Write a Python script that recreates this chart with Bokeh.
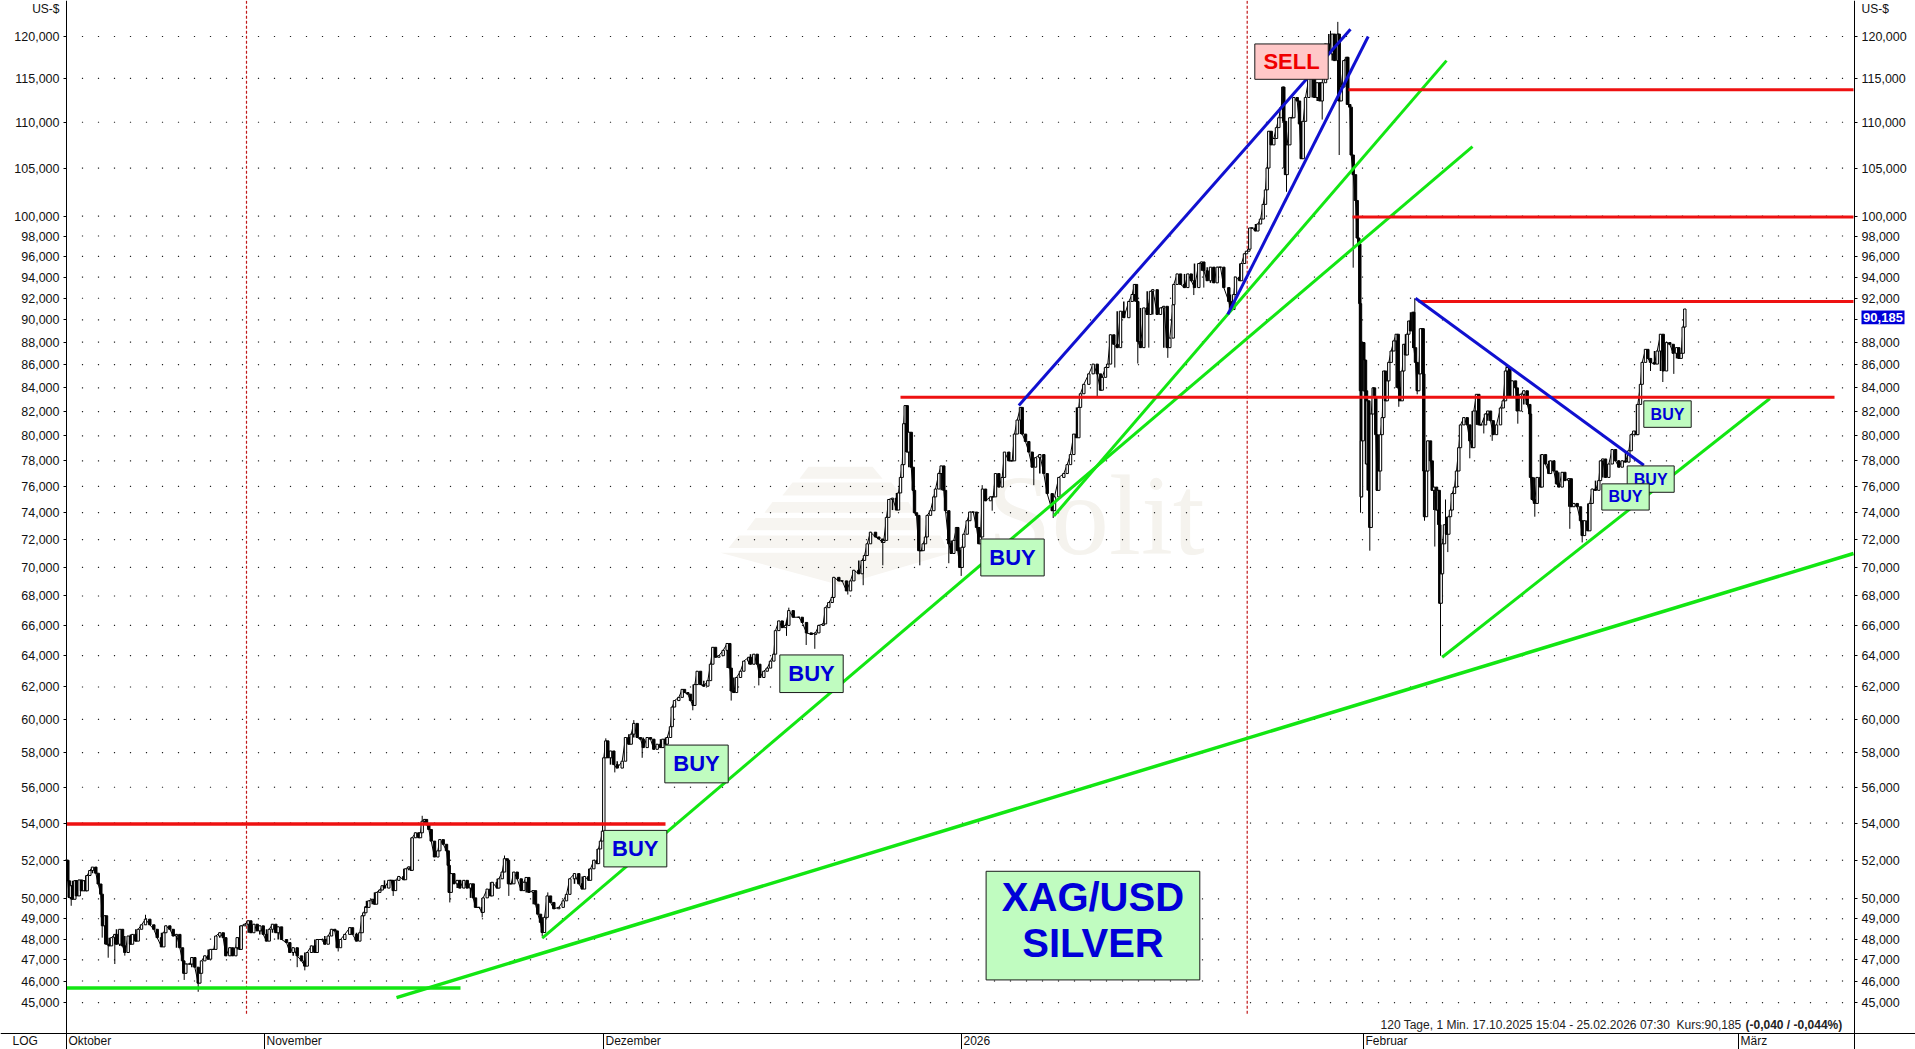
from bokeh.core.properties import value
from bokeh.embed import file_html
from bokeh.models import BasicTickFormatter, FixedTicker, LinearAxis, LogAxis, Range1d
from bokeh.plotting import figure
from bokeh.resources import INLINE
import numpy as np

# x = bar number on the chart (one bar per screen column), y = price in US-$
oct_nov = [(0,52.0),(1.3,50.93),(2.7,50.07),(4,50.67),(6,49.98),(8.3,50.93),(10,50.15),(12.7,50.97),(15,50.41),(17.3,50.93),
    (19.3,50.41),(20.7,51.2),(23.3,51.46),(26,51.64),(29.3,51.32),(31.7,50.76),(34.3,50.24),(35.7,49.07),(36,48.65),(38.3,49.15),
    (40,47.75),(42.7,47.67),(45,48.07),(48.3,48.23),(50,47.75),(53.3,48.48),(56,47.67),(58.3,47.35),(61.7,48.15),(64,47.75),
    (66,48.23),(69.3,47.9),(71.7,48.48),(75,48.7),(79,48.98),(83.3,48.7),(87.3,48.48),(90.7,48.07),(95,47.62),(97.3,48.31),
    (99.3,48.65),(103.3,48.48),(106.7,48.15),(110,48.23),(113.3,47.58),(116,46.95),(117.3,46.36),(119.3,46.8),(123.3,46.8),(125.3,47.11),
    (128.3,46.65),(131.7,45.9),(133.3,46.36),(135,46.95),(138.3,47.19),(141.7,47.03),(144,47.5),(147.3,47.5),(149.3,48.15),(153.3,48.31),
    (156.7,48.07),(159.3,47.19),(163.3,47.58),(166,47.19),(169.3,47.58),(170.7,48.07),(173.3,47.5),(174.7,48.65),(178.3,48.73),(181.7,48.9),
    (184.3,48.31),(187.3,48.73),(190.7,48.4),(193.3,48.65),(196.7,48.23),(200,47.9),(202.7,48.48),(206,48.73),(209.3,48.31),(211.7,48.6),
    (215,47.98),(220,47.83),(223.3,47.35),(226.7,47.58),(230.7,47.19),(235,46.95),(238.3,46.7),(240.7,47.35),(245,47.67),(248.3,47.35),
    (250.7,47.98),(255,47.98),(258.3,47.75),(261.7,48.15),(265,48.48),(268.3,48.4),(270.7,47.58),(274,47.98),(278.3,48.23),(283.3,48.56),
    (286,48.23),(290,47.9),(293.3,48.31),(295.7,49.15),(297.3,49.3),(299.3,49.6)]

nov_dez = [(300,49.57),(302.3,49.9),(305.7,49.98),(308,49.73),(310,50.33),(313.3,50.45),(315.7,50.67),(318,50.55),(322.3,50.95),(324.7,50.95),
    (326.7,50.42),(329,50.95),(332.3,51.15),(337.3,50.98),(339,51.55),(342.3,51.65),(344.7,51.47),(345.7,53.2),(349,53.47),(352.3,53.2),
    (354,53.47),(355.7,54.1),(358,54.2),(360,53.93),(362.3,53.65),(364.7,53.02),(368,52.17),(371.3,52.5),(373.3,53.1),(376.7,52.85),
    (380,52.5),(381.7,51.73),(382.7,50.33),(384.7,51.3),(387.3,50.77),(390.7,50.95),(393.3,50.55),(397.3,50.95),(400.7,50.55),(404,50.77),
    (406.7,50.05),(409,49.57),(412.3,49.57),(415.7,49.32),(416.7,50.05),(420.7,50.5),(424,50.15),(425.7,50.85),(430.7,50.55),(432.3,51.03),
    (435.7,51.38),(438,52.08),(440.7,52),(442,50.77),(444.7,50.77),(447.3,51.38),(450.7,51.03),(454.7,50.42),(457.3,50.85),(459.7,51.1),
    (462.3,50.33),(466.7,50.42),(469,49.73),(471.3,49.23),(474,48.82),(475.7,48.32),(478,49.07),(480.7,50.15),(484,49.82),(487.3,49.5),
    (492.3,49.57),(496.7,49.9),(500,50.23),(503.3,51.03),(508,51.3),(512.3,50.77),(515.7,50.5),(518,51.15),(522.3,50.95),(524,51.55),
    (527.3,52),(530.7,51.82),(532,52.6),(534,53.02),(536,53.56)]

dez_jan = [(537.3,57.7),(539.3,58.7),(541.3,57.7),(544,58.1),(547.3,57.3),(550.7,57.1),(555.7,57.5),(559,58.9),(562.3,58.5),(564.7,59.1),
    (567.3,59.75),(570.7,58.9),(574,58.8),(576.7,58.3),(580.7,58.9),(584,58.8),(587.3,58.2),(590.7,58.5),(594,58.3),(596.3,58.8),
    (599,58.5),(600.7,58.9),(604,59.55),(605.7,60.75),(608,61.15),(612.3,61.35),(615.7,61.85),(618,61.65),(621.3,61.55),(624,61.15),
    (626.7,60.85),(628.3,62.15),(630.7,63.0),(634,62.15),(637.3,62.05),(641.3,62.4),(644,63.45),(646.3,64.55),(649,63.9),(652.3,64),
    (656.7,64.35),(660.7,64.8),(663.3,63.2),(664.7,61.75),(667.3,61.65),(670,62.6),(674,63),(677.3,63.65),(682.3,63.9),(684,63.45),
    (687.3,64.1),(690.7,63.45),(693.3,62.6),(697.3,63),(700.7,63.2),(704,63.65),(707.3,64.1),(709,65.65),(712.3,66.3),(715.7,65.85),
    (719,66),(722.3,67),(726.7,66.55),(732.3,66.55),(735.7,66.2),(740,65.5),(744.7,65.4),(749,65.5),(752.3,66),(756.7,66.1),
    (759,67.2),(762.3,67.55),(765.7,67.9),(767.3,69.3),(772.3,69.05),(775.7,69.05),(780,68.35),(784,69.05),(787.3,69.8),(792.3,69.55),
    (795.7,70.5),(798,70.85),(800.7,71.7),(804,72.55),(809,72.2),(812.3,72.05),(816,71.8),(817.3,71.95),(820,73.65),(822.3,75),
    (826,75.1),(830,74.2),(832,75.5)]

jan_top = [(834,76.7),(835.7,77.7),(837.3,81),(838.7,82.5),(840.7,78.7),(842.3,80.3),(844.7,77.5),(846.7,75.7),(848,74),(850,73.8),
    (852.3,71.2),(854.7,71.2),(856.7,71.7),(859,72.2),(860.7,73.8),(864,74.15),(867.3,75.2),(869,75.8),(872.3,77),(874.7,77.6),
    (877.3,75.7),(879,74.15),(882.3,71.7),(884.7,71),(887.3,71.95),(890,72.9),(891.3,71.2),(893.3,70),(895.7,71.45),(897.3,72.4),
    (900.7,73.4),(903.3,74.05),(906.7,74.05),(910,72.9),(912.3,71.7),(914,72.2),(916,75.8),(919,74.9),(924,75.2),(926.7,75.2),
    (929,77),(932.3,75.95),(935.7,76.7),(938,78.7),(942.3,78),(945.7,78),(948,80.15),(950.7,81.3),(954,82.35),(955.7,80.15),
    (959,79.55),(962.3,78.7),(965.7,77.5),(969,78.25),(973.3,78.5),(977.3,77),(980.7,75.45),(985.7,74.15),(988,75.2),(992.3,76.7),
    (997.3,77),(1000.7,77.7),(1004,78.5),(1007.3,80.15),(1010,79.85),(1012.3,82.35),(1014,83.5),(1017.3,84.3),(1022.3,85.2),(1026.7,86.05),
    (1030.7,85.2),(1034,83.8),(1035.7,84.9),(1039,85.75),(1041.3,86.05),(1044,88.65),(1047.3,87.8),(1050.7,87.5),(1054,90.8),(1057.3,90.2),
    (1062.3,91.7),(1065.7,92.35),(1068,93.3),(1070,91.7),(1071.3,88.05),(1074,87.5),(1077.3,91.1),(1080.7,90.5),(1084,92.65),(1086.3,92.8),
    (1090.7,90.5),(1094,91.1),(1097.3,91.25),(1100.7,87.5),(1103.3,88.35),(1106.7,91.4),(1107.3,93.3),(1110.7,94.3),(1114,93.3),(1118,93),
    (1121.3,94.3),(1124.7,93.65),(1128,93),(1132.3,95.3),(1135,95.45),(1137.3,94.6),(1140.7,93.65),(1144,94.95),(1147.3,93.45),(1150.7,94.95),
    (1154,94.95),(1157.3,93),(1162.3,91.7),(1164,90.95),(1167.3,92.35),(1169,94),(1173.3,93.65),(1175,95.3),(1178,96.25)]

top_drop = [(1180,96.5),(1182.3,96.7),(1183.3,98.8),(1185.7,98.8),(1189,98.5),(1191.3,99.2),(1194,99.7),(1196.7,101.2),(1199,102.7),(1200.7,105),
    (1202.3,109),(1204.7,107.5),(1207.3,108.2),(1210,109.4),(1212.3,110.5),(1214.7,111.7),(1216.3,114),(1217.3,110.1),(1219,104.3),(1220.7,107.5),
    (1223.3,110.5),(1225.7,110.5),(1227.3,112.8),(1230.7,112.4),(1233,109.8),(1234.7,106),(1236.7,110.1),(1239,112.8),(1242.3,115),(1245.7,115.6),
    (1248,112.8),(1250.7,114.5),(1253.3,112.4),(1255.7,114.5),(1259,119.1),(1262.3,117.9),(1265.7,120.3),(1268,117.1),(1271.3,120.3),(1272.7,112.4),
    (1274.7,114),(1277.3,117.1),(1280,117.5),(1281.3,112),(1283.3,111.7),(1284.7,106.4),(1286.7,104.3),(1289,101.6),(1290.7,97.8),(1292.3,97.2),
    (1293.3,91.5)]

feb_range = [(1294,83.75),(1294.7,75.2),(1295,79.6),(1296.7,87.95),(1297.3,83.75),(1298,86.4),(1299,83.75),(1300,77.75),(1300.7,82.9),(1302.3,75.7),
    (1303.3,72.9),(1304.7,81.8),(1306.7,84),(1308,83.2),(1309.3,80.1),(1310.7,75.7),(1312.3,77.2),(1314,80.1),(1315.7,81.5),(1317.3,85.45),
    (1319,82.9),(1320.7,84.6),(1322.3,86.2),(1324.7,87.2),(1327.3,88.1),(1329.7,88.7),(1331.7,84),(1333.3,82.9),(1335.7,85.45),(1337.3,87.8),
    (1339,86.85),(1340.7,88.7),(1342.3,89.9),(1344,89),(1346.3,90.7),(1347.3,87.5),(1349,86.2),(1350.7,83.75),(1352.3,85.2),(1354,89.2),
    (1356,89.2),(1356.7,85.2),(1357.3,77.2),(1358,73.7),(1360,77.2),(1361.3,79.6),(1364,78),(1365.7,75.7),(1367.3,75.95),(1370,74.2),
    (1371.3,75.7),(1372.7,73.1),(1373.3,67.5),(1374.7,69.55),(1376,71.7),(1378,73.1),(1380,72.4),(1382.3,73.7),(1384,74.2),(1385.7,75.45),
    (1388,75.95),(1390,77.2),(1392.3,79.05),(1394,80.9),(1397.3,81.5),(1400.7,80.9),(1403.3,79.6),(1405.7,79.05),(1407.3,82.05),(1410,83.45),
    (1412.3,80.9),(1414.7,80.9),(1419,81.8),(1421.3,82.05),(1424,81.25),(1426.7,80.1),(1430,80.9),(1434,82.3),(1436.7,82.9),(1439,85.45),
    (1440.7,85.75),(1443.3,83.2),(1445.7,84.6),(1449,84),(1450.7,82.05),(1454,83.45),(1457.3,83.75),(1460.7,82.6),(1463.3,81.8),(1464,76.7),
    (1465.7,75),(1468,74.7),(1470.7,76.7),(1474,75.95),(1475.7,78.5),(1479,77.75),(1482.3,77)]

feb_end = [(1484,78),(1487.3,77.2),(1490,76.2),(1492.3,75.95),(1495.7,77.1),(1498.3,76.45),(1502.3,76.6),(1504.7,74.45),(1507.3,74.7),(1510.7,74.45),
    (1514,73.4),(1515.7,72.3),(1518,73.4),(1521.3,72.65),(1523.3,74.7),(1525.7,75.8),(1529,75.7),(1532.3,76.45),(1534,78),(1536.3,78.15),
    (1539,76.7),(1542.3,77.75),(1545.7,78.9),(1549,78),(1552.3,77.5),(1555.7,78),(1559,77.9),(1562.3,78.8),(1564.7,80.1),(1567.3,80.4),
    (1570,80.1),(1571.3,82.6),(1574,84.3),(1575.7,86.2),(1579,87.35),(1581.3,86.55),(1584,86.2),(1588,86.05),(1590.7,87.2),(1594,88.7),
    (1596.7,85.45),(1600,87.95),(1603.3,87.8),(1606.7,87),(1610,87.5),(1612.3,86.55),(1614.7,87),(1616.7,89.35),(1618.3,91)]

# lone wicks: bar and the price the wick reaches
wicks = [(35.7,48.07),(41.7,47.1),(48.3,46.8),(58.3,47.2),(4.7,49.65),(117.7,46.05),(131.7,45.5),(230.7,46.65),(238.3,46.5),(79,49.2),(271.7,47.4),
    (383.3,49.82),(415.7,49.07),(355.7,54.4),(442.3,50.15),(438,52.25),(326.7,50.15),(481.3,50.33),(475.7,48.15),
    (539.3,58.85),(548.3,56.85),(567.3,59.95),(575.7,57.7),(626.3,60.55),(664.7,61.15),(692.3,62.1),(722.3,67.2),(720,65.3),(739.7,64.7),(748.3,64.45),
    (781.3,68.1),(796.7,68.75),(816.3,70.15),(853.3,70.15),(882.3,70.3),(894.7,69.4),(915.7,76.1),(925.7,74.15),(967.3,76.1),(986.7,73.6),
    (1030.7,83.3),(1048.3,85.75),(1071.3,86.1),(1082.3,87.5),(1101.3,86.6),(1127.3,92.3),(1137.3,93),
    (1220,102.5),(1255.7,110.3),(1271.3,121.8),(1272.7,106.4),(1286.7,94.9),(1264,120.7),(1217.3,105),
    (1294,74),(1303.3,71.2),(1332.3,82.4),(1350.7,83.45),(1358,73.4),(1368.3,71.5),(1374,64),(1381.3,71.1),(1379,75),(1403.3,78.2),(1417.3,80.2),
    (1425.7,79.6),(1451.3,81),(1468.3,73.7),(1348.3,92),(1439.7,86),(1515.7,71.8),(1503.3,72.8),(1596.3,84.5),(1607.3,85.2),(1584,85.45)]

# drawn trend lines: bar0, price0, bar1, price1, width
green_lines = [(0,45.67,394,45.67,3.5),(330,45.23,1787,71,3.5),(475.7,48.05,1406,107.3,3),(987.3,73.75,1380,117.1,3),(1375.7,63.9,1703.4,83.1,3)]
blue_lines = [(952.3,82.5,1284,120.9,3),(1161.3,90.5,1301.7,120,3),(1349,92,1577.3,77.65,3)]
red_lines = [(0,53.95,599,53.95,3.5),(834,83.2,1768,83.2,3),(1352,91.7,1787,91.7,3),(1286,99.9,1787,99.9,3),(1282,113.7,1787,113.7,3)]

# boxes: left bar, right bar, low price, high price
big_buy = [(537.3,600.3,51.65,53.6),(598.3,661.7,56.25,58.45),(713.3,776.7,61.65,64.05),(914.3,977.7,69.4,72.05)]
small_buy = [(1577.3,1624.7,80.7,82.9),(1560.7,1607.7,75.55,77.6),(1535.3,1582.7,74.2,76.2)]
sell_box = (1188.3,1261.7,114.9,119.1)
title_box = (919.6,1133.3,46.05,51.42)
title_prices = [50.1,47.8]
title_lines = ["XAG/USD","SILVER"]

price_ticks = [45,46,47,48,49,50,52,54,56,58,60,62,64,66,68,70,72,74,76,78,80,82,84,86,88,90,92,94,96,98,100,105,110,115,120]
month_bars = [0,198,537,895,1297,1672]
month_names = ["Oktober","November","Dezember","2026","Februar","März"]
year_lines = [180,1180.7]
last_price = 90.185

logo_xs = [[742,806,816,733],[726,825,835,716],[706,842,848,698],[689,857,862,680],[672,874,880,662],[654,885,774]]
logo_ys = [[77.54,77.54,76.6,76.6],[76.3,76.3,75.3,75.3],[74.8,74.8,74,74],[73.6,73.6,72.7,72.7],[72.3,72.3,71.4,71.4],[71.05,71.05,68.75]]

FONT = "Liberation Sans"
GREEN = "#12e612"
RED = "#ee1111"
BLUE = "#1010d0"
BOX_GREEN = "#c0fcc0"
AXIS_Y = 43.61  # price where the time axis sits
LOW_Y, TOP_Y = 42.91, 124.47
LABEL_Y = 43.3  # month names below the time axis

# frame covers the whole figure, the axes are pinned inside it
p = figure(width=1915, height=1049, output_backend="svg", toolbar_location=None,
           x_range=Range1d(-66, 1849), y_range=Range1d(LOW_Y, TOP_Y), y_axis_type="log",
           x_axis_location=None, y_axis_location=None,
           min_border_left=0, min_border_right=0, min_border_top=0, min_border_bottom=0)
p.outline_line_color = None
p.grid.visible = False

tick_text = {float(t): f"{t},000" for t in price_ticks}
left_axis = LogAxis(fixed_location=0, ticker=FixedTicker(ticks=price_ticks), formatter=BasicTickFormatter(),
                    major_label_overrides=tick_text)
right_axis = LogAxis(fixed_location=1788, ticker=FixedTicker(ticks=price_ticks), formatter=BasicTickFormatter(),
                     major_label_overrides={**tick_text, 90.0: ""})
p.add_layout(left_axis, "left")
p.add_layout(right_axis, "right")
for ax in (left_axis, right_axis):
    ax.major_tick_out = 3
    ax.major_tick_in = 0
    ax.minor_tick_out = 0
    ax.minor_tick_in = 0
    ax.major_label_standoff = 4
    ax.major_label_text_font = FONT
    ax.major_label_text_font_size = "12.5px"
    ax.major_label_text_color = "#111111"
    ax.axis_line_color = "black"
    ax.major_tick_line_color = "black"

time_axis = LinearAxis(fixed_location=AXIS_Y, ticker=FixedTicker(ticks=month_bars))
time_axis.major_tick_out = 16
time_axis.major_tick_in = 0
time_axis.minor_tick_out = 0
time_axis.minor_tick_in = 0
time_axis.major_label_text_color = None
time_axis.axis_line_color = "black"
time_axis.major_tick_line_color = "black"
p.add_layout(time_axis, "below")

# watermark
p.patches(logo_xs, logo_ys, fill_color="#f7f5f1", line_color=None)
p.text([921], [73.8], text=["Solit"], text_font=value("Liberation Serif"), text_font_size="115px",
       text_color="#f5f3ee", text_align="left", text_baseline="alphabetic")

# dotted grid
dot_bars = np.arange(16, 1780, 16)
dx, dy = np.meshgrid(dot_bars, price_ticks)
p.scatter(dx.ravel(), dy.ravel(), marker="square", size=1.2, color="#222222", line_color=None)

p.segment(year_lines, [44.5] * 2, year_lines, [TOP_Y] * 2, line_color="#c01818", line_width=1.2, line_dash="3 2")

# price bars
series = oct_nov + nov_dez + dez_jan + jan_top + top_drop + feb_range + feb_end
bars = np.array([s[0] for s in series])
close = np.array([s[1] for s in series])
opens = np.concatenate([[close[0]], close[:-1]])
wick_bars = [w[0] for w in wicks]
wick_ends = [w[1] for w in wicks]
p.segment(wick_bars, np.interp(wick_bars, bars, close), wick_bars, wick_ends, line_color="black", line_width=1)

# at a turn the bar also covers the move into the next bar
turn = (close[1:-1] - close[:-2]) * (close[2:] - close[1:-1]) < 0
p.segment(bars[1:-1][turn], close[1:-1][turn], bars[1:-1][turn], close[2:][turn], line_color="black", line_width=1.5)
p.line(bars, close, line_color="black", line_width=1)
p.vbar(bars, width=2.4, bottom=np.minimum(opens, close), top=np.maximum(opens, close),
       fill_color=["white" if c > o else "black" for o, c in zip(opens, close)],
       line_color="black", line_width=1)

for lines, col in ((green_lines, GREEN), (red_lines, RED), (blue_lines, BLUE)):
    p.segment([l[0] for l in lines], [l[1] for l in lines], [l[2] for l in lines], [l[3] for l in lines],
              line_color=col, line_width=[l[4] for l in lines])

def box(b, label, fill, col, size):
    p.quad(left=[b[0]], right=[b[1]], bottom=[b[2]], top=[b[3]], fill_color=fill, line_color="#1a1a1a", line_width=1)
    p.text([(b[0] + b[1]) / 2], [np.sqrt(b[2] * b[3])], text=[label], text_font=value(FONT), text_font_style="bold",
           text_font_size=size, text_color=col, text_align="center", text_baseline="middle")

for b in big_buy:
    box(b, "BUY", BOX_GREEN, "#0000d8", "22px")
for b in small_buy:
    box(b, "BUY", BOX_GREEN, "#0000d8", "16px")
box(sell_box, "SELL", "#ffc8c8", "#f00000", "22px")

p.quad(left=[title_box[0]], right=[title_box[1]], bottom=[title_box[2]], top=[title_box[3]],
       fill_color=BOX_GREEN, line_color="#1a1a1a", line_width=1)
p.text([(title_box[0] + title_box[1]) / 2] * 2, title_prices, text=title_lines, text_font=value(FONT), text_font_style="bold",
       text_font_size="40px", text_color="#0000d8", text_align="center", text_baseline="middle")

# status line
p.text([1675], [44.0], text=["120 Tage, 1 Min. 17.10.2025 15:04 - 25.02.2026 07:30\u00a0 Kurs:90,185"], text_font=value(FONT),
       text_font_size="12px", text_color="#222222", text_align="right", text_baseline="middle")
p.text([1679], [44.0], text=["(-0,040 / -0,044%)"], text_font=value(FONT), text_font_style="bold",
       text_font_size="12px", text_color="#222222", text_align="left", text_baseline="middle")

# unit labels, LOG switch and month names
p.text([-7], [123.4], text=["US-$"], text_font=value(FONT), text_font_size="12px", text_color="#111111",
       text_align="right", text_baseline="middle")
p.text([1795], [123.4], text=["US-$"], text_font=value(FONT), text_font_size="12px", text_color="#111111",
       text_align="left", text_baseline="middle")
p.text([-54], [LABEL_Y], text=["LOG"], text_font=value(FONT), text_font_size="12px", text_color="#111111",
       text_align="left", text_baseline="middle")
p.text([b + 2 for b in month_bars], [LABEL_Y] * len(month_bars), text=month_names, text_font=value(FONT),
       text_font_size="12px", text_color="#111111", text_align="left", text_baseline="middle")

# last price tag
p.quad(left=[1795], right=[1838], bottom=[89.6], top=[90.87], fill_color="#0000d8", line_color=None)
p.text([1816.5], [last_price], text=["90,185"], text_font=value(FONT), text_font_style="bold", text_font_size="13px",
       text_color="white", text_align="center", text_baseline="middle")

open("out.html", "w").write(file_html(p, INLINE))
